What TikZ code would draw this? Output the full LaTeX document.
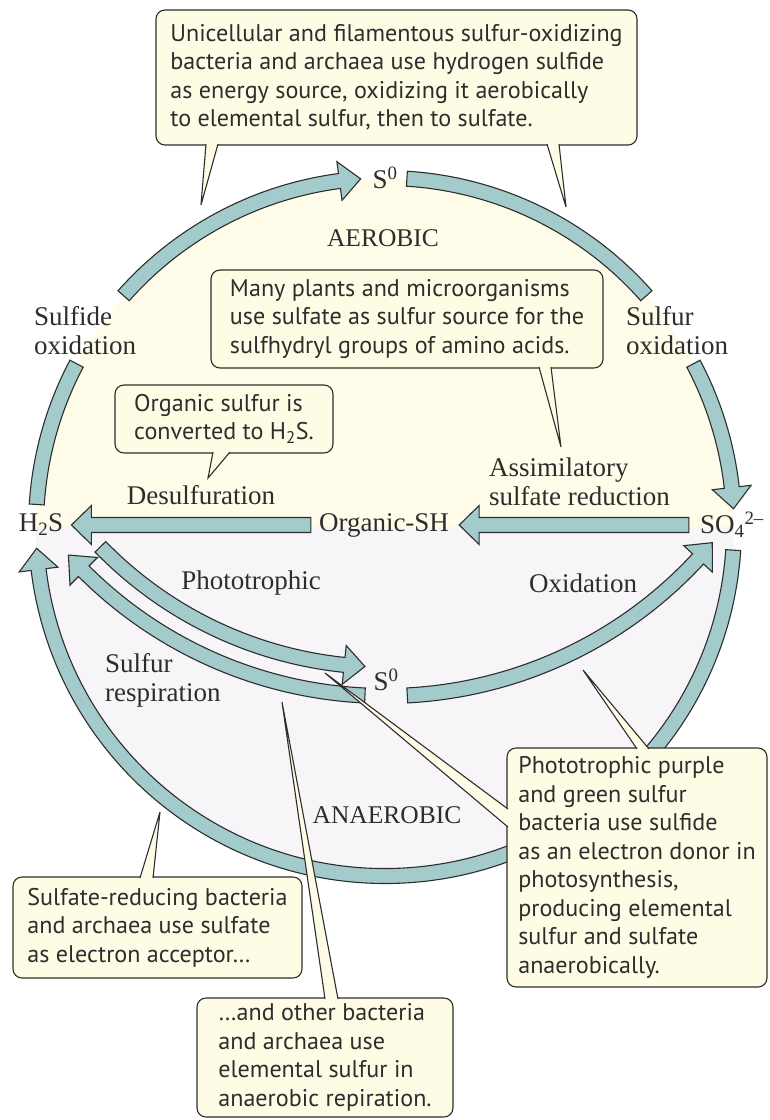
\documentclass[tikz,border=0pt]{standalone}
\usepackage{fontspec}
\newfontfamily\calloutsans{PT Sans}
\newfontfamily\labelserif{Liberation Serif}
\usetikzlibrary{calc}
\definecolor{bandteal}{RGB}{164,203,203}
\definecolor{inkgray}{RGB}{45,45,45}
\definecolor{aerobicpale}{RGB}{255,253,233}
\definecolor{anaerobicpale}{RGB}{248,245,249}
\definecolor{calloutpale}{RGB}{255,252,230}

\newcommand\ringband[4]{%
  \pgfmathsetmacro\bandout{#2+7.5}\pgfmathsetmacro\bandin{#2-7.5}%
  \filldraw[band] ($(#1)+(#3:\bandout)$) arc[start angle=#3,end angle=#4,radius=\bandout]
    -- ($(#1)+(#4:\bandin)$) arc[start angle=#4,end angle=#3,radius=\bandin] -- cycle;}
\newcommand\ringarrow[5]{%
  \pgfmathsetmacro\bandout{#2+7.5}\pgfmathsetmacro\bandin{#2-7.5}%
  \pgfmathsetmacro\headout{#2+19.5}\pgfmathsetmacro\headin{#2-19.5}%
  \filldraw[band] ($(#1)+(#3:\bandout)$) arc[start angle=#3,end angle=#4,radius=\bandout]
    -- ($(#1)+(#4:\headout)$) -- ($(#1)+(#5:#2)$) -- ($(#1)+(#4:\headin)$)
    -- ($(#1)+(#4:\bandin)$) arc[start angle=#4,end angle=#3,radius=\bandin] -- cycle;}
\newcommand\leftband[2]{%
  \filldraw[band] ($(#1)+(0,-7.5)$) -- ($(#2)+(20,-7.5)$) -- ($(#2)+(20,-19.5)$) -- (#2)
    -- ($(#2)+(20,19.5)$) -- ($(#2)+(20,7.5)$) -- ($(#1)+(0,7.5)$) -- cycle;}
\newcommand\calltail[3]{%
  \fill[calloutpale] #1 -- (#3) -- #2 -- cycle;
  \draw[tailline] #1 -- (#3) -- #2;}

\begin{document}
\begin{tikzpicture}[x=1pt,y=-1pt,
  band/.style={fill=bandteal,draw=inkgray,line width=1.1pt,line join=miter},
  tailline/.style={draw=inkgray,line width=1.1pt,line join=miter},
  callout/.style={draw=inkgray,fill=calloutpale,rounded corners=9pt,line width=1.1pt,align=left,
    inner sep=0pt,text=inkgray,font=\calloutsans\fontsize{24.1}{28.5}\selectfont},
  chem/.style={inner sep=0pt,text=inkgray,font=\labelserif\fontsize{27}{29}\selectfont},
  lbl/.style={inner sep=0pt,align=left,text=inkgray,font=\labelserif\fontsize{27}{29}\selectfont},
  zone/.style={inner sep=0pt,text=inkgray,font=\labelserif\fontsize{25.5}{28}\selectfont}]
  \useasboundingbox (0,0) rectangle (769,1120);
  \fill[white] (0,0) rectangle (769,1120);
  \coordinate (ring) at (385,527);
  \coordinate (inner) at (385,270);
  \fill[aerobicpale] ($(ring)+(180:349)$) arc[start angle=180,end angle=360,radius=349] -- cycle;
  \fill[anaerobicpale] ($(ring)+(0:349)$) arc[start angle=0,end angle=180,radius=349] -- cycle;

  \node[chem] (h2s) at (41,525) {H\textsubscript{2}S};
  \node[chem] (orgsh) at (384,525) {Organic-SH};
  \node[chem] (so4) at (732,525) {SO\textsubscript{4}\textsuperscript{2\textendash}};
  \node[chem] (s0top) at (385,178) {S\textsuperscript{0}};
  \node[chem] (s0low) at (386,680) {S\textsuperscript{0}};
  \node[lbl,anchor=west] (sulfideox) at (34,331) {Sulfide\\oxidation};
  \node[lbl,anchor=west] (sulfurox) at (626,331) {Sulfur\\oxidation};
  \node[zone] (aerobic) at (383,238) {AEROBIC};
  \node[lbl] (desulf) at (201,495) {Desulfuration};
  \node[lbl,anchor=west] (assim) at (489,482) {Assimilatory\\sulfate reduction};
  \node[lbl] (photo) at (251,583) {Phototrophic};
  \node[lbl] (oxid) at (583,583) {Oxidation};
  \node[lbl,anchor=west] (sulfresp) at (105,680) {Sulfur\\respiration};
  \node[zone] (anaerobic) at (387,815) {ANAEROBIC};

  \ringband{ring}{349}{183.7}{207.9}
  \ringarrow{ring}{349}{221.5}{262.5}{266}
  \ringband{ring}{349}{273.6}{318.5}
  \ringarrow{ring}{349}{332.1}{353.5}{357}
  \ringarrow{ring}{349}{3.8}{173}{176.5}
  \ringarrow{inner}{397}{135.8}{95.9}{92.9}
  \ringarrow{inner}{426}{92.7}{135}{138}
  \ringarrow{inner}{426}{87}{42.7}{39.8}
  \coordinate (so4out) at ($(so4.west)+(-11,0)$);
  \coordinate (orgin) at ($(orgsh.east)+(10,0)$);
  \leftband{so4out}{orgin}
  \coordinate (orgout) at ($(orgsh.west)+(-8,0)$);
  \coordinate (h2sin) at ($(h2s.east)+(8,0)$);
  \leftband{orgout}{h2sin}

  \node[callout,minimum width=481pt,minimum height=135pt] (topbox) at (396.5,77.5)
    {Unicellular and filamentous sulfur-oxidizing\\bacteria and archaea use hydrogen sulfide\\as energy source, oxidizing it aerobically\\to elemental sulfur, then to sulfate.};
  \node[callout,minimum width=392pt,minimum height=98pt] (midbox) at (407,319)
    {Many plants and microorganisms\\use sulfate as sulfur source for the\\sulfhydryl groups of amino acids.};
  \node[callout,minimum width=218pt,minimum height=68pt] (orgbox) at (224,419)
    {Organic sulfur is\\converted to H\textsubscript{2}S.};
  \node[callout,minimum width=289pt,minimum height=101pt] (lbbox) at (157.5,927.5)
    {Sulfate-reducing bacteria\\and archaea use sulfate\\as electron acceptor…};
  \node[callout,minimum width=260pt,minimum height=239pt] (rbbox) at (637,867.5)
    {Phototrophic purple\\and green sulfur\\bacteria use sulfide\\as an electron donor in\\photosynthesis,\\producing elemental\\sulfur and sulfate\\anaerobically.};
  \node[callout,minimum width=256pt,minimum height=119pt] (botbox) at (325,1057.5)
    {…and other bacteria\\and archaea use\\elemental sulfur in\\anaerobic repiration.};

  \coordinate (tipTL) at (201,205);
  \coordinate (tipTR) at (566,207);
  \coordinate (tipMid) at (561,447);
  \coordinate (tipOrg) at (208,478);
  \coordinate (tipLB) at (160,812);
  \coordinate (tipBot) at (282,702);
  \coordinate (tipRBtop) at (583,670);
  \coordinate (tipRBleft) at (325,673);
  \calltail{($(206,0 |- topbox.south)+(0,-1.5)$)}{($(218,0 |- topbox.south)+(0,-1.5)$)}{tipTL}
  \calltail{($(547,0 |- topbox.south)+(0,-1.5)$)}{($(559,0 |- topbox.south)+(0,-1.5)$)}{tipTR}
  \calltail{($(539,0 |- midbox.south)+(0,-1.5)$)}{($(551,0 |- midbox.south)+(0,-1.5)$)}{tipMid}
  \calltail{($(213,0 |- orgbox.south)+(0,-1.5)$)}{($(230,0 |- orgbox.south)+(0,-1.5)$)}{tipOrg}
  \calltail{($(140,0 |- lbbox.north)+(0,1.5)$)}{($(153,0 |- lbbox.north)+(0,1.5)$)}{tipLB}
  \calltail{($(325,0 |- botbox.north)+(0,1.5)$)}{($(338,0 |- botbox.north)+(0,1.5)$)}{tipBot}
  \calltail{($(637,0 |- rbbox.north)+(0,1.5)$)}{($(649,0 |- rbbox.north)+(0,1.5)$)}{tipRBtop}
  \calltail{($(rbbox.west |- 0,809)+(1.5,0)$)}{($(rbbox.west |- 0,827)+(1.5,0)$)}{tipRBleft}
\end{tikzpicture}
\end{document}
